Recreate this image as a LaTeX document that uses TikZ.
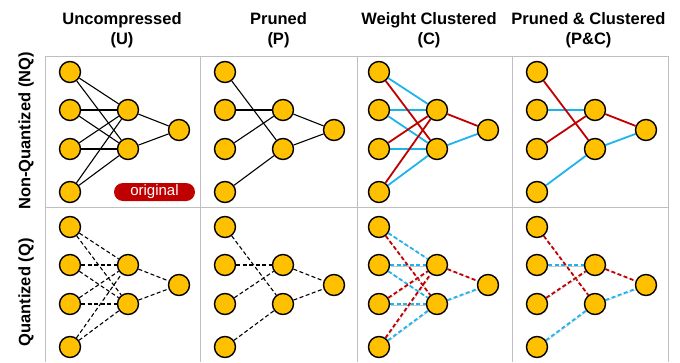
\documentclass[tikz,border=0pt]{standalone}
\usepackage{fontspec}
\setmainfont{Liberation Sans}
\definecolor{nodegold}{HTML}{FFC000}
\definecolor{wred}{HTML}{C00000}
\definecolor{wblue}{HTML}{1DB4EC}
\definecolor{gridgray}{HTML}{BFBFBF}
\pgfdeclarelayer{edges}
\pgfsetlayers{edges,main}
\newcommand\netnodes[3]{%
  \node[neuron] (#1i1) at ({70+#2},{72+#3}) {};
  \node[neuron] (#1i2) at ({70+#2},{110+#3}) {};
  \node[neuron] (#1i3) at ({70+#2},{149+#3}) {};
  \node[neuron] (#1i4) at ({70+#2},{192+#3}) {};
  \node[neuron] (#1h1) at ({128+#2},{110+#3}) {};
  \node[neuron] (#1h2) at ({128+#2},{149+#3}) {};
  \node[neuron] (#1o)  at ({179+#2},{130+#3}) {};
}
\newcommand\rowedges[4]{%
  % Uncompressed
  \foreach \i in {1,...,4}{\foreach \h in {1,2}{\draw[#2] (U#1i\i) -- (U#1h\h);}}
  \draw[#2] (U#1h1) -- (U#1o);
  \draw[#2] (U#1h2) -- (U#1o);
  % Pruned
  \draw[#2] (P#1i1) -- (P#1h2);
  \draw[#2] (P#1i2) -- (P#1h1);
  \draw[#2] (P#1i3) -- (P#1h1);
  \draw[#2] (P#1i4) -- (P#1h2);
  \draw[#2] (P#1h1) -- (P#1o);
  \draw[#2] (P#1h2) -- (P#1o);
  % Weight clustered
  \draw[#4] (C#1i1) -- (C#1h1);
  \draw[#4] (C#1i2) -- (C#1h1);
  \draw[#4] (C#1i2) -- (C#1h2);
  \draw[#4] (C#1i3) -- (C#1h2);
  \draw[#4] (C#1i4) -- (C#1h2);
  \draw[#4] (C#1h2) -- (C#1o);
  \draw[#3] (C#1i1) -- (C#1h2);
  \draw[#3] (C#1i3) -- (C#1h1);
  \draw[#3] (C#1i4) -- (C#1h1);
  \draw[#3] (C#1h1) -- (C#1o);
  % Pruned & clustered
  \draw[#4] (X#1i2) -- (X#1h1);
  \draw[#4] (X#1i4) -- (X#1h2);
  \draw[#4] (X#1h2) -- (X#1o);
  \draw[#3] (X#1i1) -- (X#1h2);
  \draw[#3] (X#1i3) -- (X#1h1);
  \draw[#3] (X#1h1) -- (X#1o);
}
\begin{document}
\begin{tikzpicture}[x=1pt,y=-1pt,
  neuron/.style={circle, draw=black, line width=1.4pt, fill=nodegold, minimum size=21pt, inner sep=0pt},
  gridline/.style={draw=gridgray, line width=1pt},
  head/.style={font=\bfseries\fontsize{16.5}{20.5}\selectfont, align=center, inner sep=0pt},
  rowlab/.style={font=\bfseries\fontsize{16.5}{20}\selectfont, rotate=90, inner sep=0pt},
  pill/.style={fill=wred, rounded corners=9pt, minimum width=81pt, minimum height=18pt, inner sep=0pt, text=white, font=\fontsize{15}{18}\selectfont},
  wk/.style={draw=black, line width=1.1pt},
  wkd/.style={wk, dash pattern=on 4pt off 2.5pt},
  wr/.style={draw=wred, line width=1.8pt},
  wb/.style={draw=wblue, line width=1.8pt},
  shadowed/.style={preaction={draw=gray!45, transform canvas={shift={(0.9pt,-0.9pt)}}}},
  wrd/.style={wr, dash pattern=on 4pt off 2.5pt, shadowed},
  wbd/.style={wb, dash pattern=on 4pt off 2.5pt, shadowed}]
\useasboundingbox (0,0) rectangle (680,362);
% grid
\draw[gridline] (45,56) -- (668,56);
\draw[gridline] (45,207) -- (668,207);
\foreach \gx in {45,200,357,512,668}{\draw[gridline] (\gx,56) -- (\gx,362);}
% headings
\node[head] (hU) at (122,30) {Uncompressed\\(U)};
\node[head] (hP) at (278.5,30) {Pruned\\(P)};
\node[head] (hC) at (429,30) {Weight Clustered\\(C)};
\node[head] (hX) at (588.5,30) {Pruned \& Clustered\\(P\&C)};
\node[rowlab] (rNQ) at (26,131) {Non-Quantized (NQ)};
\node[rowlab] (rQ) at (26,292.5) {Quantized (Q)};
% networks
\netnodes{U1}{0}{0}
\netnodes{P1}{155}{0}
\netnodes{C1}{309}{0}
\netnodes{X1}{467}{0}
\netnodes{U2}{0}{155}
\netnodes{P2}{155}{155}
\netnodes{C2}{309}{155}
\netnodes{X2}{467}{155}
\begin{pgfonlayer}{edges}
\rowedges{1}{wk}{wr}{wb}
\rowedges{2}{wkd}{wrd}{wbd}
\end{pgfonlayer}
\node[pill] (orig) at (154.5,192) {original};
\end{tikzpicture}
\end{document}
